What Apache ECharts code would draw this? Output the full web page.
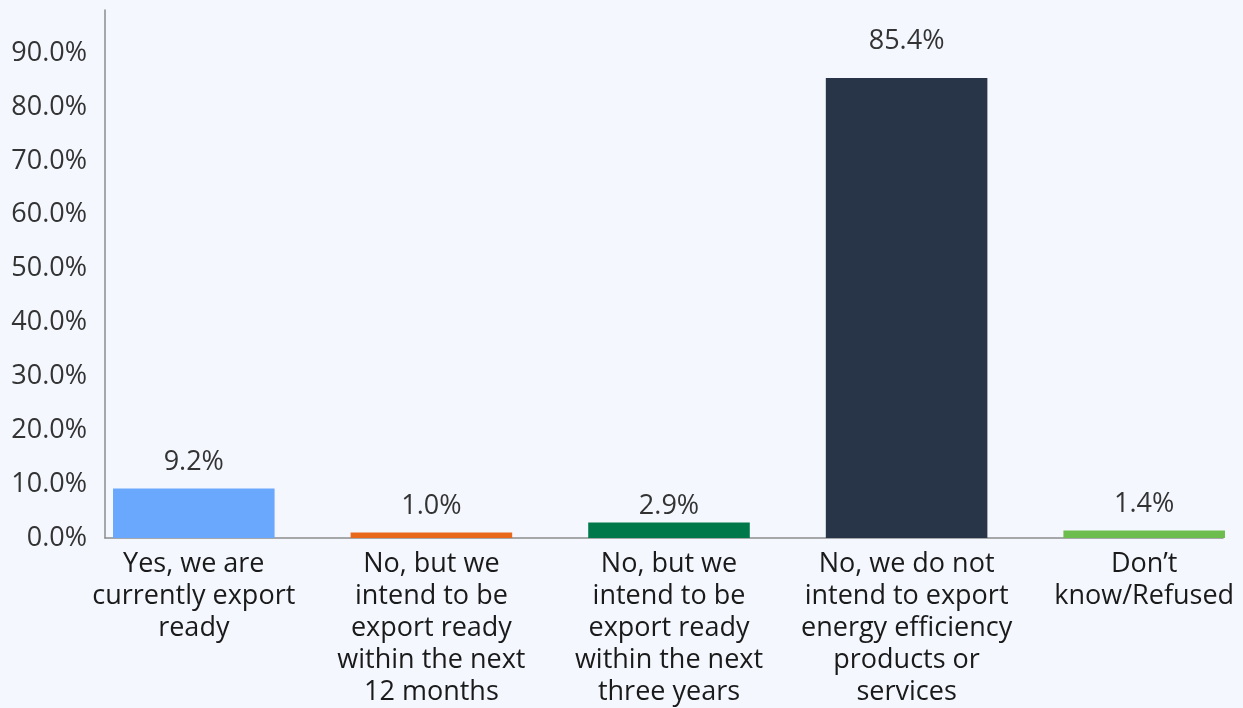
<!DOCTYPE html>
<html>
<head>
<meta charset="utf-8">
<script src="https://cdn.jsdelivr.net/npm/echarts@6/dist/echarts.min.js"></script>
<style>
  html, body { margin: 0; padding: 0; background: #f4f8fe; }
  #chart { width: 1243px; height: 708px; }
</style>
</head>
<body>
<div id="chart"></div>
<script>
const categories = [
  'Yes, we are\ncurrently export\nready',
  'No, but we\nintend to be\nexport ready\nwithin the next\n12 months',
  'No, but we\nintend to be\nexport ready\nwithin the next\nthree years',
  'No, we do not\nintend to export\nenergy efficiency\nproducts or\nservices',
  'Don\u2019t\nknow/Refused'
];
const shares = [9.2, 1.0, 2.9, 85.4, 1.4];
const barColors = ['#6aa8fe', '#e8681c', '#00784a', '#283548', '#6cbd4e'];

const font = '"Open Sans", "Noto Sans", sans-serif';
const yMax = 98;

// small nudges so the value labels sit like in the original
const labelNudge = { 2: [0, 10], 3: [0, -10] };

const chart = echarts.init(document.getElementById('chart'));
chart.setOption({
  backgroundColor: '#f4f8fe',
  animation: false,
  grid: [
    // bars sit on this grid (it runs past the right edge on purpose)
    { left: 75, width: 1188, top: 10, bottom: 170, outerBoundsMode: 'none', containLabel: false },
    // axis lines of the visible frame
    { left: 105, right: 20, top: 10, bottom: 170, outerBoundsMode: 'none', containLabel: false }
  ],
  xAxis: [
    {
      type: 'category',
      gridIndex: 0,
      data: categories,
      axisLine: { show: false },
      axisTick: { show: false },
      axisLabel: {
        interval: 0,
        margin: 10,
        color: '#1a1a1a',
        fontFamily: font,
        fontSize: 27,
        lineHeight: 32
      }
    },
    {
      type: 'value',
      gridIndex: 1,
      min: 0,
      max: 1,
      axisLine: { show: true, lineStyle: { color: '#8c8c8c', width: 1.5 } },
      axisTick: { show: false },
      axisLabel: { show: false },
      splitLine: { show: false }
    }
  ],
  yAxis: [
    {
      type: 'value',
      gridIndex: 0,
      min: 0,
      max: yMax,
      show: false
    },
    {
      type: 'value',
      gridIndex: 1,
      min: 0,
      max: yMax,
      interval: 10,
      axisLine: { show: true, lineStyle: { color: '#8c8c8c', width: 1.5 } },
      axisTick: { show: false },
      splitLine: { show: false },
      axisLabel: {
        showMaxLabel: false,
        margin: 18,
        color: '#333333',
        fontFamily: font,
        fontSize: 27,
        formatter: v => v.toFixed(1) + '%'
      }
    }
  ],
  series: [
    {
      type: 'bar',
      xAxisIndex: 0,
      yAxisIndex: 0,
      barWidth: '68%',
      data: shares.map((v, i) => ({
        value: v,
        itemStyle: { color: barColors[i] },
        label: labelNudge[i] ? { offset: labelNudge[i] } : undefined
      })),
      label: {
        show: true,
        position: 'top',
        distance: 13,
        color: '#333333',
        fontFamily: font,
        fontSize: 27,
        formatter: p => p.value.toFixed(1) + '%'
      }
    }
  ]
});
</script>
</body>
</html>
